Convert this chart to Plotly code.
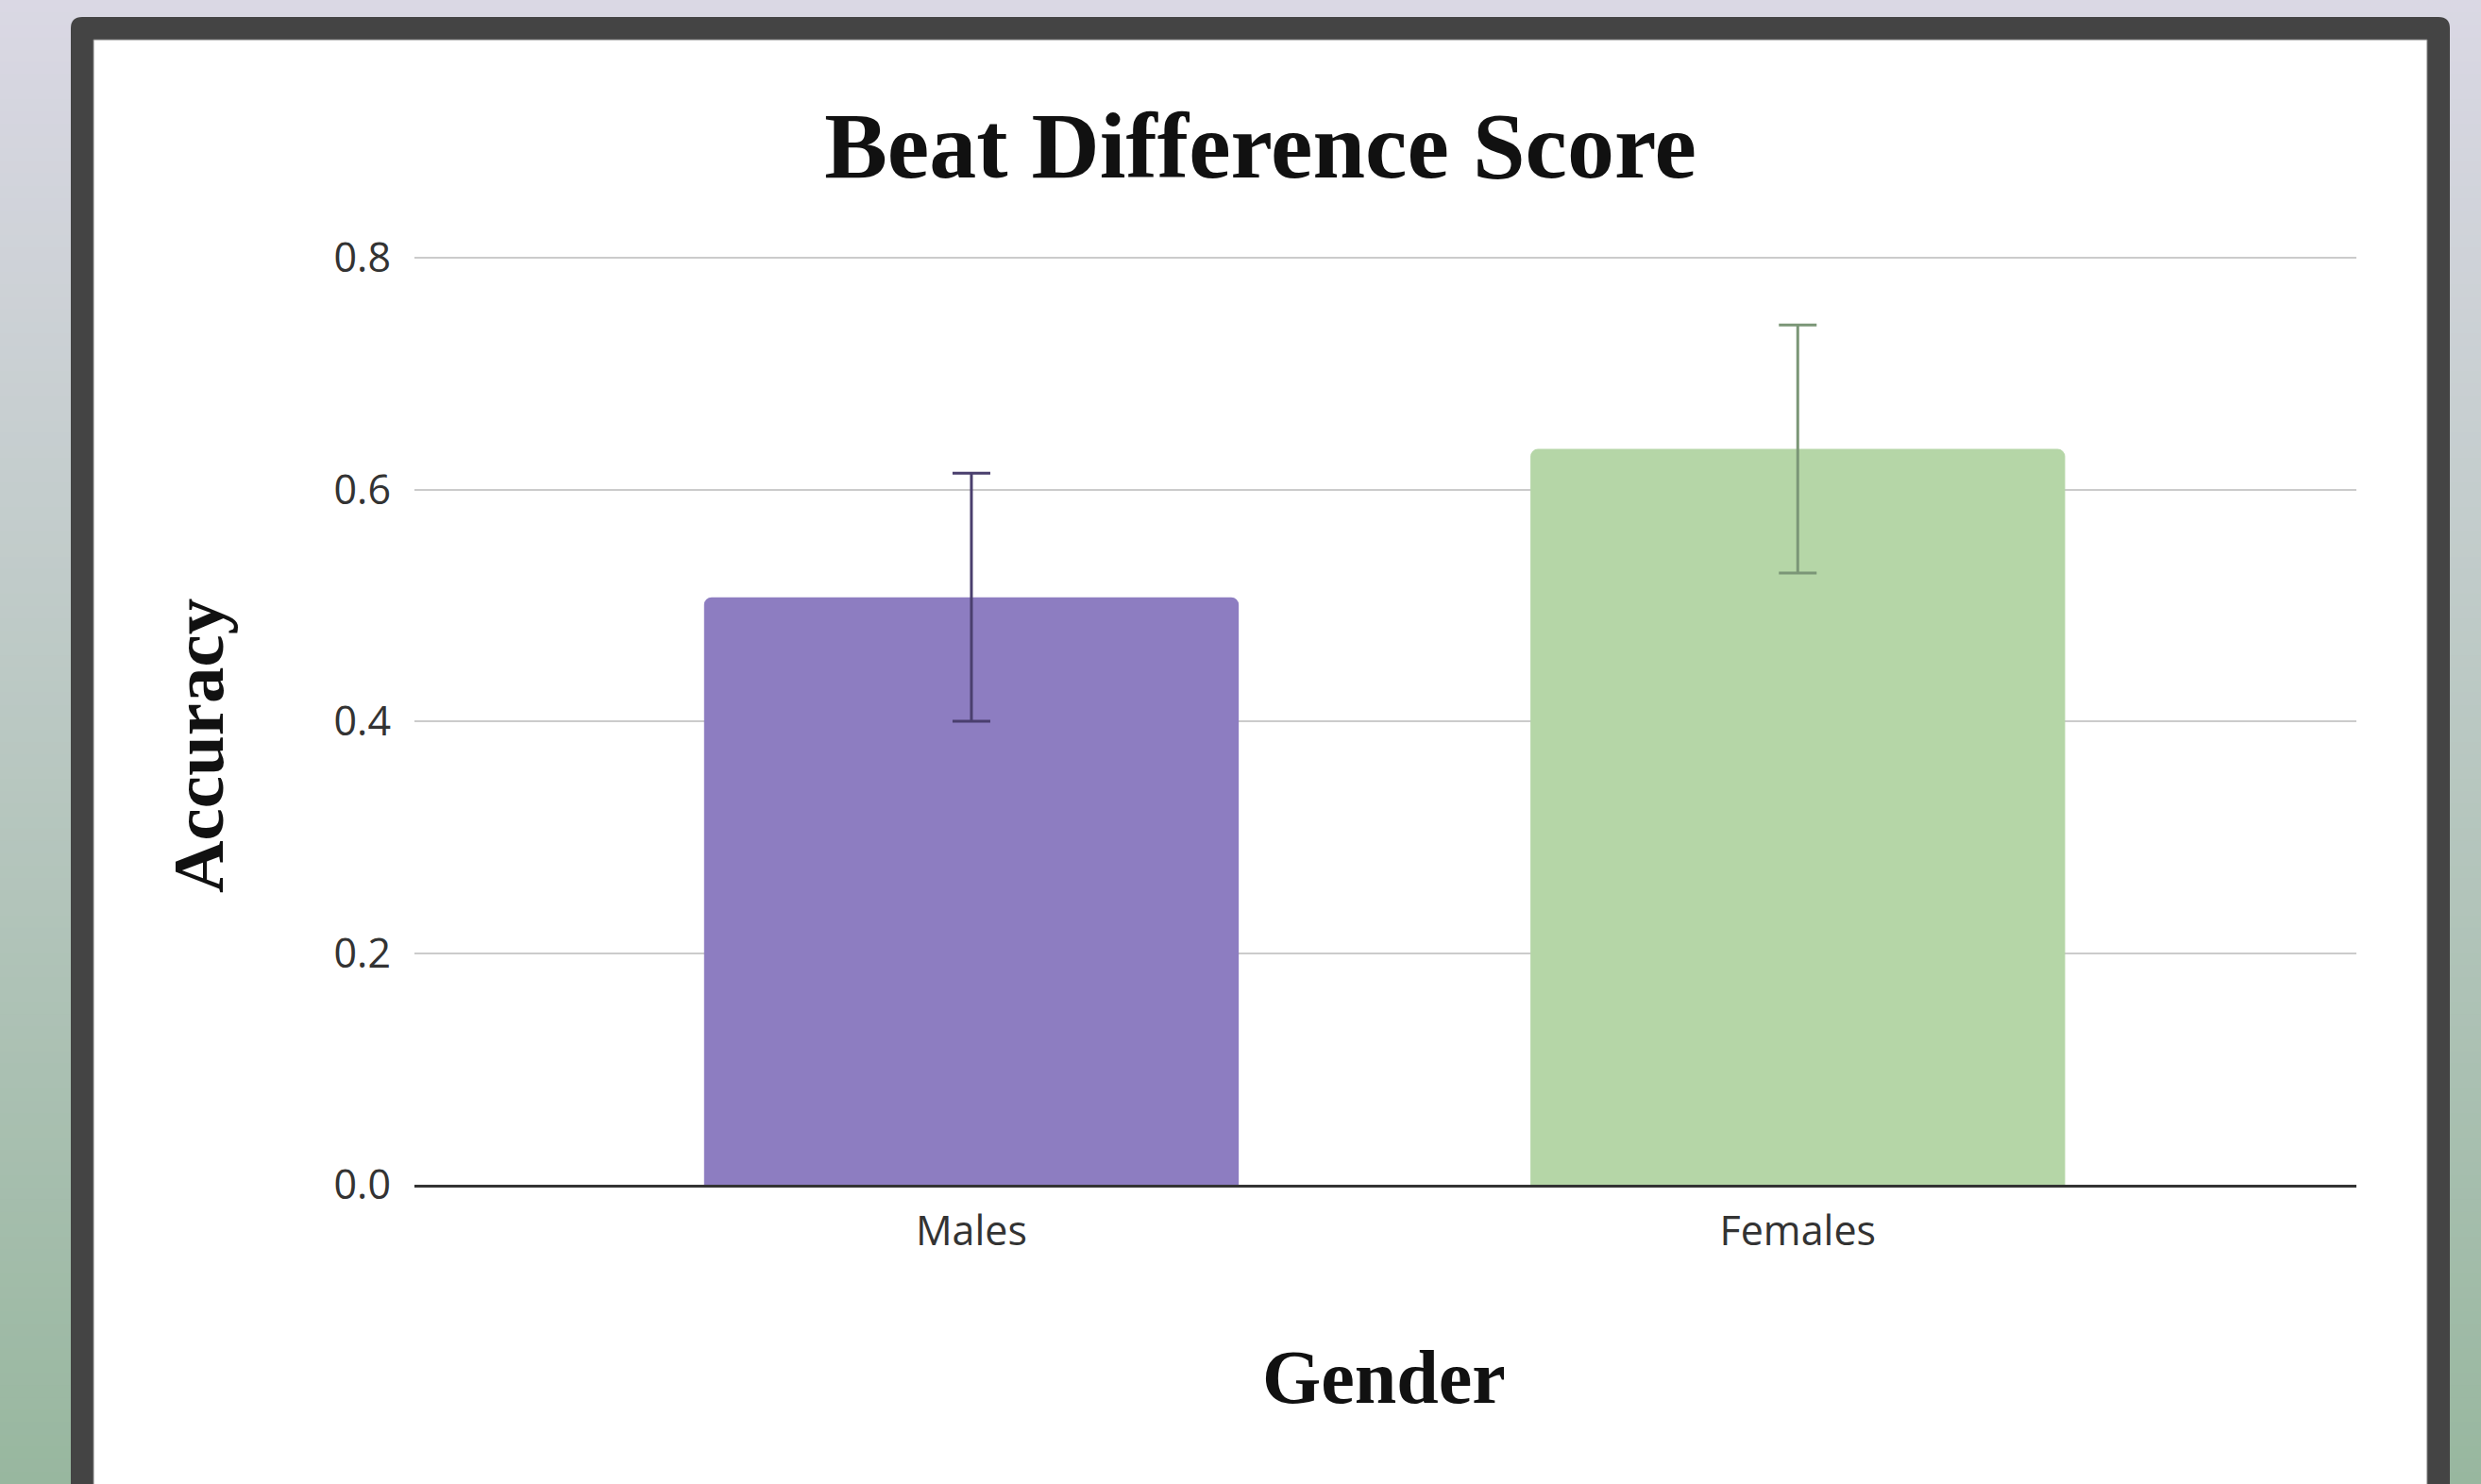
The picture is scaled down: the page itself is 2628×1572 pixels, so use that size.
import plotly.graph_objects as go

# ---- data ----
categories = ["Males", "Females"]
accuracy = [0.507, 0.635]
error = [0.107, 0.107]
y_ticks = [0.0, 0.2, 0.4, 0.6, 0.8]

# ---- styling ----
bar_colors = ["#8d7dc1", "#b5d6a7"]
err_colors = ["#4a3f6e", "#7b9677"]

W, H = 2628, 1572
L, R, B = 439, 2496, 1255
T0 = 273          # pixel row of 0.8
EXTRA = 3         # extra pixels above 0.8 so its gridline is drawn
T = T0 - EXTRA
Y_TOP = 0.8 * (B - T) / (B - T0)


def px(x):
    return (x - L) / (R - L)


def py(y):
    return (B - y) / (B - T)


fig = go.Figure()
for i, cat in enumerate(categories):
    fig.add_trace(go.Bar(
        x=[cat], y=[accuracy[i]],
        width=0.647,
        marker=dict(color=bar_colors[i], line=dict(width=0), cornerradius=8),
        error_y=dict(type="data", array=[error[i]], visible=True,
                     color=err_colors[i], thickness=3, width=20),
        showlegend=False,
        name=cat,
    ))

shapes = []
# background gradient
N = 120
top = (218, 216, 228)
bot = (152, 183, 159)
for k in range(N):
    t = (k + 0.5) / N
    c = tuple(round(top[j] + (bot[j] - top[j]) * t) for j in range(3))
    y0 = k * H / N
    y1 = (k + 1) * H / N + 1
    shapes.append(dict(type="rect", xref="paper", yref="paper",
                       x0=px(-5), x1=px(W + 5), y0=py(y0), y1=py(y1),
                       fillcolor="rgb(%d,%d,%d)" % c, line=dict(width=0),
                       layer="below"))


def rpath(x0, y0, x1, y1, r):
    pts = [
        ("M", [(x0, y1)]),
        ("L", [(x0, y0 + r)]),
        ("Q", [(x0, y0), (x0 + r, y0)]),
        ("L", [(x1 - r, y0)]),
        ("Q", [(x1, y0), (x1, y0 + r)]),
        ("L", [(x1, y1)]),
    ]
    s = ""
    for cmd, ps in pts:
        s += cmd + " " + " ".join("%.6f,%.6f" % (px(a), py(b)) for a, b in ps) + " "
    return s + "Z"


# dark frame
shapes.append(dict(type="path", xref="paper", yref="paper",
                   path=rpath(75, 18, 2595, H + 20, 12),
                   fillcolor="#444444", line=dict(width=0), layer="below"))
# white panel
shapes.append(dict(type="rect", xref="paper", yref="paper",
                   x0=px(99), x1=px(2571), y0=py(42), y1=py(H + 20),
                   fillcolor="#ffffff", line=dict(color="#7a7a7a", width=1),
                   layer="below"))

title_font = dict(family="Liberation Serif", color="#111111", weight="bold")

fig.update_layout(
    width=W, height=H,
    margin=dict(l=L, r=W - R, t=T, b=H - B, pad=0),
    paper_bgcolor="rgba(0,0,0,0)",
    plot_bgcolor="rgba(0,0,0,0)",
    barmode="overlay",
    shapes=shapes,
    title=dict(
        text="Beat Difference Score",
        x=px(1335), xref="paper", xanchor="center",
        y=1 - 153 / H, yref="container", yanchor="middle",
        font=dict(size=100, **title_font),
    ),
    annotations=[
        dict(text="Gender", xref="paper", yref="paper",
             x=px(1466), y=py(1459), xanchor="center", yanchor="middle",
             showarrow=False, font=dict(size=80, **title_font)),
        dict(text="Accuracy", xref="paper", yref="paper",
             x=px(210), y=py(790), xanchor="center", yanchor="middle",
             textangle=-90, showarrow=False, font=dict(size=77, **title_font)),
    ],
    xaxis=dict(
        range=[-0.674, 1.676],
        showgrid=False,
        showline=True, linecolor="#333333", linewidth=3,
        ticks="", ticklabelstandoff=9,
        tickfont=dict(family="Open Sans", size=43, color="#333333"),
        fixedrange=True,
    ),
    yaxis=dict(
        range=[0, Y_TOP],
        tickvals=y_ticks,
        tickformat=".1f",
        showgrid=True, gridcolor="#cbcbcb", gridwidth=2,
        zeroline=False,
        showline=False,
        ticks="", ticklabelstandoff=24,
        tickfont=dict(family="Open Sans", size=43, color="#333333"),
        fixedrange=True,
    ),
)

fig.write_html("out.html", config={"displayModeBar": False},
               post_script="document.body.style.margin='0';")
